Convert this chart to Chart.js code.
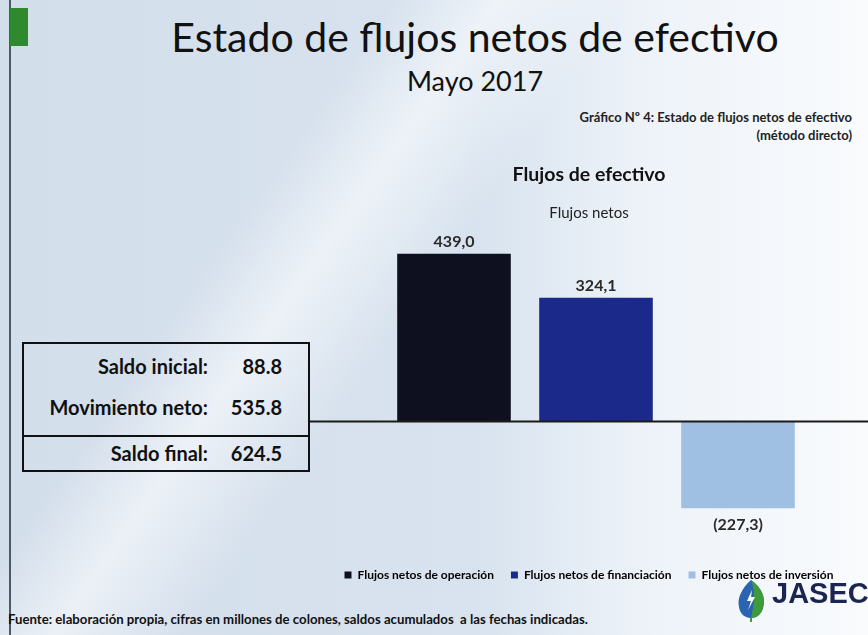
<!DOCTYPE html>
<html>
<head>
<meta charset="utf-8">
<script src="https://cdn.jsdelivr.net/npm/chart.js@4.4.1/dist/chart.umd.min.js"></script>
<style>
  html, body { margin: 0; padding: 0; }
  body {
    width: 868px; height: 635px; overflow: hidden; position: relative;
    font-family: Lato, 'Open Sans', sans-serif; color: #111;
    background:
      linear-gradient(125deg, rgba(255,255,255,0) 30%, rgba(255,255,255,0.55) 38%, rgba(255,255,255,0) 48%),
      linear-gradient(90deg, #d3deeb 0%, #d8e3ef 55%, #eef3f9 75%, #f9fbfd 100%);
  }
  .abs { position: absolute; white-space: nowrap; }
  #edge { left: 9px; top: 0; width: 2px; height: 635px; background: #4a5a6a; }
  #green { left: 10px; top: 8px; width: 18px; height: 38px; background: #2f8a2f; }
  #title { left: 0; width: 950px; top: 12px; text-align: center; font-size: 41px; }
  #sub { left: 0; width: 950px; top: 64px; text-align: center; font-size: 27px; }
  .ref { right: 16px; font-size: 13px; font-weight: bold; text-align: right; color: #222; }
  #box { left: 22px; top: 342px; width: 284px; height: 126px; border: 2px solid #111; }
  #box .sep { position: absolute; left: 0; right: 0; top: 91px; border-top: 2px solid #111; }
  .row { position: absolute; left: 0; width: 284px; font-size: 20px; font-weight: bold; }
  .row .k { position: absolute; right: 100px; }
  .row .v { position: absolute; right: 26px; }
  #foot { left: 8px; top: 611px; font-size: 13.2px; font-weight: bold; color: #111; }
  #logo { left: 736px; top: 578px; }
  #jasec { left: 772px; top: 577px; font-family: 'Liberation Sans', Arial, sans-serif; font-weight: bold; font-size: 29px; color: #1b2550; }
  #wrap { position: absolute; left: 310px; top: 155px; width: 558px; height: 436px; }
</style>
</head>
<body>
<div class="abs" id="edge"></div>
<div class="abs" id="green"></div>
<div class="abs" id="title">Estado de flujos netos de efectivo</div>
<div class="abs" id="sub">Mayo 2017</div>
<div class="abs ref" style="top:109px">Gráfico Nº 4: Estado de flujos netos de efectivo</div>
<div class="abs ref" style="top:127px">(método directo)</div>

<div class="abs" id="box">
  <div class="row" style="top:10px"><span class="k">Saldo inicial:</span><span class="v">88.8</span></div>
  <div class="row" style="top:51px"><span class="k">Movimiento neto:</span><span class="v">535.8</span></div>
  <div class="sep"></div>
  <div class="row" style="top:97px"><span class="k">Saldo final:</span><span class="v">624.5</span></div>
</div>

<div id="wrap"><canvas id="flujosChart"></canvas></div>

<svg class="abs" id="logo" width="30" height="44" viewBox="0 0 30 44">
  <path d="M15 2 C 26 10, 30 20, 27 30 C 25 37, 20 40, 15 40 C 9 40, 4 36, 3 29 C 1 20, 6 10, 15 2 Z" fill="#2b64b0"/>
  <path d="M15 40 C 20 40, 25 37, 27 30 C 30 20, 26 10, 15 2 C 20 14, 18 28, 15 40 Z" fill="#3f9a3a"/>
  <path d="M16 12 L 11 23 L 15 23 L 12 32 L 19 19 L 15 19 Z" fill="#fff"/>
  <path d="M15 40 L 15 44" stroke="#3f9a3a" stroke-width="2"/>
</svg>
<div class="abs" id="jasec">JASEC</div>
<div class="abs" id="foot">Fuente: elaboración propia, cifras en millones de colones, saldos acumulados&nbsp; a las fechas indicadas.</div>

<script>
const categories = ['Flujos netos de operación', 'Flujos netos de financiación', 'Flujos netos de inversión'];
const values = [439.0, 324.1, -227.3];
const barColors = ['#0e1020', '#1b2a8a', '#9fc0e2'];

function fmt(v) {
    const s = Math.abs(v).toFixed(1).replace('.', ',');
    return v < 0 ? '(' + s + ')' : s;
}

/* zero line across the whole canvas, plus value labels */
const zeroLine = {
    id: 'zeroLine',
    afterDatasetsDraw(chart) {
        const ctx = chart.ctx;
        const y = chart.scales.y.getPixelForValue(0);
        ctx.save();
        ctx.strokeStyle = '#1a1a1a';
        ctx.lineWidth = 2;
        ctx.beginPath();
        ctx.moveTo(0, y);
        ctx.lineTo(chart.width, y);
        ctx.stroke();

        ctx.font = "bold 16px Lato, sans-serif";
        ctx.fillStyle = '#2a2a2a';
        ctx.textAlign = 'center';
        chart.getDatasetMeta(0).data.forEach((bar, i) => {
            const v = values[i];
            if (v >= 0) {
                ctx.textBaseline = 'bottom';
                ctx.fillText(fmt(v), bar.x, bar.y - 4);
            } else {
                ctx.textBaseline = 'top';
                ctx.fillText(fmt(v), bar.x, bar.y + 9);
            }
        });
        ctx.restore();
    }
};

// invisible side axes only reserve room so the bars sit where the original has them
const spacer = w => ({ display: true, grid: { display: false }, border: { display: false }, ticks: { display: false }, afterFit(s) { s.width = w; } });

new Chart(document.getElementById('flujosChart'), {
    type: 'bar',
    data: {
        labels: categories,
        datasets: [{ data: values, backgroundColor: barColors, barPercentage: 0.8, categoryPercentage: 1 }]
    },
    options: {
        responsive: true, maintainAspectRatio: false, animation: false,
        layout: { padding: { left: 0, right: 0, top: 0, bottom: 0 } },
        plugins: {
            title: { display: true, text: 'Flujos de efectivo', color: '#111', font: { size: 19.5, weight: 'bold', family: 'Lato' }, padding: { top: 8, bottom: 18 } },
            subtitle: { display: true, text: 'Flujos netos', color: '#222', font: { size: 15, family: 'Lato' }, padding: { bottom: 10 } },
            legend: {
                position: 'bottom',
                labels: {
                    color: '#333', boxWidth: 7, boxHeight: 7, padding: 17,
                    font: { size: 12, weight: 'bold', family: 'Lato' },
                    generateLabels: () => categories.map((c, i) => ({ text: c, fillStyle: barColors[i], strokeStyle: barColors[i], lineWidth: 0, index: i }))
                }
            },
            tooltip: { enabled: false }
        },
        scales: {
            x: { display: false },
            y: { ...spacer(73), position: 'left', min: -342, max: 495 },
            y2: { ...spacer(59), position: 'right', min: -342, max: 495 }
        }
    },
    plugins: [zeroLine]
});
</script>
</body>
</html>
